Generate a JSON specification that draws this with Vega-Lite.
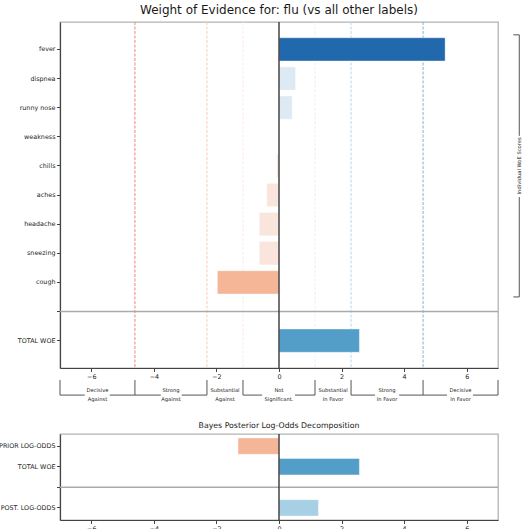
{
  "$schema": "https://vega.github.io/schema/vega-lite/v6.json",
  "padding": {"left": -3, "top": 3, "right": 0, "bottom": 0},
  "spacing": 17,
  "config": {
    "font": "DejaVu Sans",
    "view": {"stroke": "#b3b3b3", "strokeWidth": 1.3},
    "axis": {"domainColor": "#444444", "domainWidth": 1.2, "tickColor": "#444444", "tickSize": 3.5, "labelFontSize": 6.4, "labelColor": "#262626", "labelPadding": 1.5, "grid": false, "title": null},
    "title": {"font": "DejaVu Sans", "fontWeight": "normal", "color": "#1a1a1a", "frame": "group", "anchor": "middle"}
  },
  "resolve": {"scale": {"x": "independent", "y": "independent", "color": "independent"}},
  "vconcat": [
    {
      "title": {"text": "Weight of Evidence for: flu (vs all other labels)", "fontSize": 12, "offset": 4},
      "width": 438,
      "height": 346,
      "resolve": {"scale": {"y": "independent"}},
      "layer": [
        {
          "data": {"values": [
            {"feature": "fever", "woe": 5.31, "level": "decisive_for"},
            {"feature": "dispnea", "woe": 0.53, "level": "ns_for"},
            {"feature": "runny nose", "woe": 0.42, "level": "ns_for"},
            {"feature": "weakness", "woe": 0.0, "level": "ns_for"},
            {"feature": "chills", "woe": -0.07, "level": "ns_against"},
            {"feature": "aches", "woe": -0.39, "level": "ns_against"},
            {"feature": "headache", "woe": -0.63, "level": "ns_against"},
            {"feature": "sneezing", "woe": -0.63, "level": "ns_against"},
            {"feature": "cough", "woe": -1.97, "level": "subst_against"},
            {"feature": "TOTAL WOE", "woe": 2.57, "level": "strong_for"}
          ]},
          "layer": [
            {
              "data": {"values": [{"t": -4.605}, {"t": -2.303}, {"t": -1.151}, {"t": 1.151}, {"t": 2.303}, {"t": 4.605}]},
              "mark": {"type": "rule", "strokeDash": [3, 1.5], "strokeWidth": 1},
              "encoding": {
                "x": {"field": "t", "type": "quantitative", "scale": {"domain": [-7, 7], "nice": false, "zero": false}},
                "stroke": {"field": "t", "type": "nominal", "scale": {"domain": [-4.605, -2.303, -1.151, 1.151, 2.303, 4.605], "range": ["#e8877a", "#f8cbb6", "#fcebe2", "#e6f0f7", "#bad8eb", "#7db3d8"]}, "legend": null}
              }
            },
            {
              "mark": {"type": "bar", "stroke": "white", "strokeWidth": 1, "strokeOpacity": 0.4},
              "encoding": {
                "y": {"field": "feature", "type": "nominal", "sort": null,
                      "scale": {"domain": ["fever", "dispnea", "runny nose", "weakness", "chills", "aches", "headache", "sneezing", "cough", "sep", "TOTAL WOE"], "paddingInner": 0.2, "paddingOuter": 0.54},
                      "axis": {"labelExpr": "datum.value == 'sep' ? '' : datum.value"}},
                "x": {"field": "woe", "type": "quantitative", "scale": {"domain": [-7, 7], "nice": false, "zero": false}, "axis": {"values": [-6, -4, -2, 0, 2, 4, 6]}},
                "color": {"field": "level", "type": "nominal",
                          "scale": {"domain": ["decisive_for", "strong_for", "subst_for", "ns_for", "ns_against", "subst_against"], "range": ["#2268ad", "#539ec9", "#a8d0e5", "#dde9f3", "#f9e5db", "#f5b698"]},
                          "legend": null}
              }
            },
            {
              "data": {"values": [{}]},
              "mark": {"type": "rule", "color": "#aaaaaa", "strokeWidth": 1.5},
              "encoding": {"y": {"datum": "sep", "type": "nominal"}}
            },
            {
              "data": {"values": [{}]},
              "mark": {"type": "rule", "color": "#444444", "strokeWidth": 1.5},
              "encoding": {"x": {"datum": 0, "type": "quantitative", "scale": {"domain": [-7, 7], "nice": false, "zero": false}}}
            }
          ]
        },
        {
          "layer": [
            {
              "data": {"values": [{"b": -7}, {"b": -4.605}, {"b": -2.303}, {"b": -1.151}, {"b": 1.151}, {"b": 2.303}, {"b": 4.605}, {"b": 7}]},
              "mark": {"type": "rule", "color": "#555555", "strokeWidth": 1},
              "encoding": {
                "x": {"field": "b", "type": "quantitative", "scale": {"domain": [-7, 7], "nice": false, "zero": false}},
                "y": {"datum": 11.35, "type": "quantitative", "scale": {"domain": [-0.94, 10.94], "reverse": true, "nice": false, "zero": false}, "axis": null},
                "y2": {"datum": 11.87}
              }
            },
            {
              "data": {"values": [
                {"from": -7, "to": -6.21}, {"from": -5.41, "to": -4.605},
                {"from": -4.605, "to": -3.78}, {"from": -3.11, "to": -2.303},
                {"from": -1.151, "to": -0.54}, {"from": 0.51, "to": 1.151},
                {"from": 2.303, "to": 3.07}, {"from": 3.84, "to": 4.605},
                {"from": 4.605, "to": 5.37}, {"from": 6.2, "to": 7}
              ]},
              "mark": {"type": "rule", "color": "#555555", "strokeWidth": 1},
              "encoding": {
                "x": {"field": "from", "type": "quantitative", "scale": {"domain": [-7, 7], "nice": false, "zero": false}},
                "x2": {"field": "to"},
                "y": {"datum": 11.87, "type": "quantitative", "scale": {"domain": [-0.94, 10.94], "reverse": true, "nice": false, "zero": false}, "axis": null}
              }
            },
            {
              "data": {"values": [
                {"mid": -5.803, "top": "Decisive", "bottom": "Against"},
                {"mid": -3.454, "top": "Strong", "bottom": "Against"},
                {"mid": -1.727, "top": "Substantial", "bottom": "Against"},
                {"mid": 0, "top": "Not", "bottom": "Significant."},
                {"mid": 1.727, "top": "Substantial", "bottom": "In Favor"},
                {"mid": 3.454, "top": "Strong", "bottom": "In Favor"},
                {"mid": 5.803, "top": "Decisive", "bottom": "In Favor"}
              ]},
              "layer": [
                {
                  "mark": {"type": "text", "fontSize": 5.2, "color": "#262626", "baseline": "middle", "align": "center"},
                  "encoding": {
                    "x": {"field": "mid", "type": "quantitative", "scale": {"domain": [-7, 7], "nice": false, "zero": false}},
                    "y": {"datum": 11.7, "type": "quantitative", "scale": {"domain": [-0.94, 10.94], "reverse": true, "nice": false, "zero": false}, "axis": null},
                    "text": {"field": "top"}
                  }
                },
                {
                  "mark": {"type": "text", "fontSize": 5.2, "color": "#262626", "baseline": "middle", "align": "center"},
                  "encoding": {
                    "x": {"field": "mid", "type": "quantitative", "scale": {"domain": [-7, 7], "nice": false, "zero": false}},
                    "y": {"datum": 12.02, "type": "quantitative", "scale": {"domain": [-0.94, 10.94], "reverse": true, "nice": false, "zero": false}, "axis": null},
                    "text": {"field": "bottom"}
                  }
                }
              ]
            },
            {
              "data": {"values": [{"from": -0.5, "to": 2.97}, {"from": 5.07, "to": 8.5}]},
              "mark": {"type": "rule", "color": "#555555", "strokeWidth": 1},
              "encoding": {
                "x": {"datum": 7.68, "type": "quantitative", "scale": {"domain": [-7, 7], "nice": false, "zero": false}},
                "y": {"field": "from", "type": "quantitative", "scale": {"domain": [-0.94, 10.94], "reverse": true, "nice": false, "zero": false}, "axis": null},
                "y2": {"field": "to"}
              }
            },
            {
              "data": {"values": [{"end": -0.5}, {"end": 8.5}]},
              "mark": {"type": "rule", "color": "#555555", "strokeWidth": 1},
              "encoding": {
                "x": {"datum": 7.49, "type": "quantitative", "scale": {"domain": [-7, 7], "nice": false, "zero": false}},
                "x2": {"datum": 7.68},
                "y": {"field": "end", "type": "quantitative", "scale": {"domain": [-0.94, 10.94], "reverse": true, "nice": false, "zero": false}, "axis": null}
              }
            },
            {
              "data": {"values": [{"label": "Individual WoE Scores"}]},
              "mark": {"type": "text", "fontSize": 5.2, "color": "#262626", "baseline": "middle", "align": "center", "angle": 270},
              "encoding": {
                "x": {"datum": 7.66, "type": "quantitative", "scale": {"domain": [-7, 7], "nice": false, "zero": false}},
                "y": {"datum": 4.0, "type": "quantitative", "scale": {"domain": [-0.94, 10.94], "reverse": true, "nice": false, "zero": false}, "axis": null},
                "text": {"field": "label"}
              }
            }
          ]
        }
      ]
    },
    {
      "title": {"text": "Bayes Posterior Log-Odds Decomposition", "fontSize": 7.8, "offset": 3.5},
      "width": 438,
      "height": 86,
      "data": {"values": [
        {"term": "PRIOR LOG-ODDS", "value": -1.31, "level": "subst_against"},
        {"term": "TOTAL WOE", "value": 2.57, "level": "strong_for"},
        {"term": "POST. LOG-ODDS", "value": 1.26, "level": "subst_for"}
      ]},
      "layer": [
        {
          "mark": {"type": "bar", "stroke": "white", "strokeWidth": 1, "strokeOpacity": 0.4},
          "encoding": {
            "y": {"field": "term", "type": "nominal", "sort": null,
                  "scale": {"domain": ["PRIOR LOG-ODDS", "TOTAL WOE", "sep", "POST. LOG-ODDS"], "paddingInner": 0.2, "paddingOuter": 0.19},
                  "axis": {"labelExpr": "datum.value == 'sep' ? '' : datum.value"}},
            "x": {"field": "value", "type": "quantitative", "scale": {"domain": [-7, 7], "nice": false, "zero": false}, "axis": {"values": [-6, -4, -2, 0, 2, 4, 6]}},
            "color": {"field": "level", "type": "nominal",
                      "scale": {"domain": ["decisive_for", "strong_for", "subst_for", "ns_for", "ns_against", "subst_against"], "range": ["#2268ad", "#539ec9", "#a8d0e5", "#dde9f3", "#f9e5db", "#f5b698"]},
                      "legend": null}
          }
        },
        {
          "data": {"values": [{}]},
          "mark": {"type": "rule", "color": "#aaaaaa", "strokeWidth": 1.5},
          "encoding": {"y": {"datum": "sep", "type": "nominal"}}
        },
        {
          "data": {"values": [{}]},
          "mark": {"type": "rule", "color": "#444444", "strokeWidth": 1.5},
          "encoding": {"x": {"datum": 0, "type": "quantitative", "scale": {"domain": [-7, 7], "nice": false, "zero": false}}}
        }
      ]
    }
  ]
}
